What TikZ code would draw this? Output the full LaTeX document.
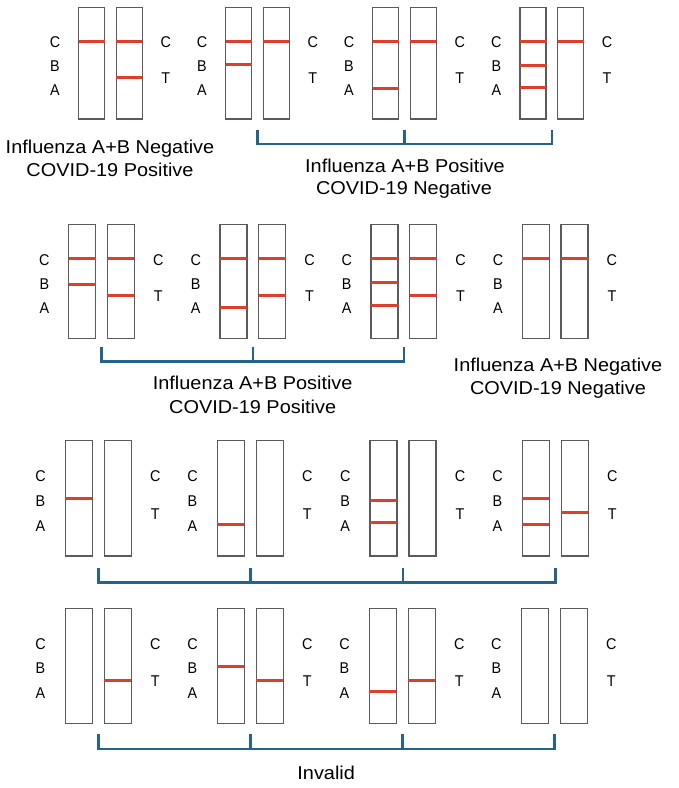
\documentclass[tikz,border=0pt]{standalone}
\usepackage{fontspec}
\setmainfont{Liberation Sans}
\newfontfamily\capfont[FakeStretch=1.07]{Liberation Sans}
\newfontfamily\labfont[FakeStretch=0.92]{Liberation Sans}
\definecolor{stripgray}{RGB}{95,90,90}
\definecolor{bandred}{RGB}{222,62,44}
\definecolor{brkblue}{RGB}{36,100,140}
\tikzset{
  strip/.style={draw=stripgray, line width=1.3pt, fill=white},
  band/.style={draw=bandred, line width=3pt},
  brk/.style={draw=brkblue, line width=2.6pt, line join=miter},
  lab/.style={inner sep=0pt, font=\labfont\fontsize{15.6}{16}\selectfont, text height=11.2pt, text depth=0pt},
  captxt/.style={inner sep=0pt, font=\capfont\fontsize{18.6}{20}\selectfont, text height=13.3pt, text depth=0pt},
}
\newcommand\grp[2]{%
  \draw[strip] (#2,\rt) rectangle (#2+\sw,\rb);
  \draw[strip] (#2+\so,\rt) rectangle (#2+\so+\sw,\rb);
  \node[lab] (#1c) at (#2+\lo,\yC) {C};
  \node[lab] (#1b) at (#2+\lo,\yB) {B};
  \node[lab] (#1a) at (#2+\lo,\yA) {A};
  \node[lab] (#1cr) at (#2+\ro,\yC) {C};
  \node[lab] (#1t) at (#2+\ro,\yT) {T};
  \coordinate (#1m) at (#2+\so/2+\sw/2,\bt);
}
\newcommand\bandL[2]{\draw[band] (#1,#2) -- (#1+\sw,#2);}
\newcommand\bandR[2]{\draw[band] (#1+\so,#2) -- (#1+\so+\sw,#2);}
\begin{document}
\begin{tikzpicture}[x=1pt,y=-1pt]
\useasboundingbox (0,0) rectangle (679,788);
% ---------- Row 1 ----------
\def\rt{7.3}\def\rb{119}\def\sw{26}\def\so{37.7}\def\lo{-23.7}\def\ro{87}
\def\yC{41.7}\def\yB{65.5}\def\yA{89.5}\def\yT{77.5}\def\bt{130}
\grp{ra}{78.7}\bandL{78.7}{41.3}\bandR{78.7}{41.3}\bandR{78.7}{77.3}
\grp{rb}{225.7}\bandL{225.7}{41.3}\bandL{225.7}{64}\bandR{225.7}{41.3}
\grp{rc}{372.7}\bandL{372.7}{41.3}\bandL{372.7}{88.3}\bandR{372.7}{41.3}
\grp{rd}{520}\bandL{520}{41.3}\bandL{520}{65.3}\bandL{520}{87.3}\bandR{520}{41.3}
\draw[brk] (rbm) -- ++(0,14) -| (rdm);
\draw[brk] (rcm) -- ++(0,14);
\node[captxt] (t1a) at (110,146.7) {Influenza A+B Negative};
\node[captxt] (t1b) at (110,170) {COVID-19 Positive};
\node[captxt] (t2a) at (405,166) {Influenza A+B Positive};
\node[captxt] (t2b) at (404,188.3) {COVID-19 Negative};
% ---------- Row 2 ----------
\def\rt{224.3}\def\rb{338.3}\def\sw{27}\def\so{38.7}\def\lo{-24.3}\def\ro{89.6}
\def\yC{259.5}\def\yB{283.5}\def\yA{308.3}\def\yT{295.7}\def\bt{346.7}
\grp{sa}{68.7}\bandL{68.7}{258.3}\bandL{68.7}{284.3}\bandR{68.7}{258.3}\bandR{68.7}{295.3}
\grp{sb}{220}\bandL{220}{258.3}\bandL{220}{307.3}\bandR{220}{258.3}\bandR{220}{295.3}
\grp{sc}{371}\bandL{371}{258.3}\bandL{371}{282.3}\bandL{371}{305.3}\bandR{371}{258.3}\bandR{371}{295.3}
\grp{sd}{522.3}\bandL{522.3}{258.3}\bandR{522.3}{258.3}
\draw[brk] (sam) -- ++(0,15) -| (scm);
\draw[brk] (sbm) -- ++(0,15);
\node[captxt] (t3a) at (252.7,383) {Influenza A+B Positive};
\node[captxt] (t3b) at (252.7,406.7) {COVID-19 Positive};
\node[captxt] (t4a) at (558,365) {Influenza A+B Negative};
\node[captxt] (t4b) at (558,388.3) {COVID-19 Negative};
% ---------- Row 3 ----------
\def\rt{440.7}\def\rb{556}\def\sw{27}\def\so{39}\def\lo{-24.8}\def\ro{90}
\def\yC{476.2}\def\yB{500.8}\def\yA{526.2}\def\yT{513.5}\def\bt{568.3}
\grp{ua}{65.3}\bandL{65.3}{498.3}
\grp{ub}{217.3}\bandL{217.3}{524.3}
\grp{uc}{370}\bandL{370}{500.3}\bandL{370}{522.3}
\grp{ud}{522.3}\bandL{522.3}{498.3}\bandL{522.3}{524.3}\bandR{522.3}{512.3}
\draw[brk] (uam) -- ++(0,14.4) -| (udm);
\draw[brk] (ubm) -- ++(0,14.4);
\draw[brk] (ucm) -- ++(0,14.4);
% ---------- Row 4 ----------
\def\rt{608.3}\def\rb{723.3}
\def\yC{643.8}\def\yB{668.2}\def\yA{693.2}\def\yT{680.5}\def\bt{734.3}
\grp{va}{65.3}\bandR{65.3}{680.3}
\grp{vb}{217.3}\bandL{217.3}{666}\bandR{217.3}{680.3}
\grp{vc}{369.3}\bandL{369.3}{691.3}\bandR{369.3}{680.3}
\grp{vd}{521.2}
\draw[brk] (vam) -- ++(0,14.7) -| (vdm);
\draw[brk] (vbm) -- ++(0,14.7);
\draw[brk] (vcm) -- ++(0,14.7);
\node[captxt] (t5) at (326.2,773) {Invalid};
\end{tikzpicture}
\end{document}
